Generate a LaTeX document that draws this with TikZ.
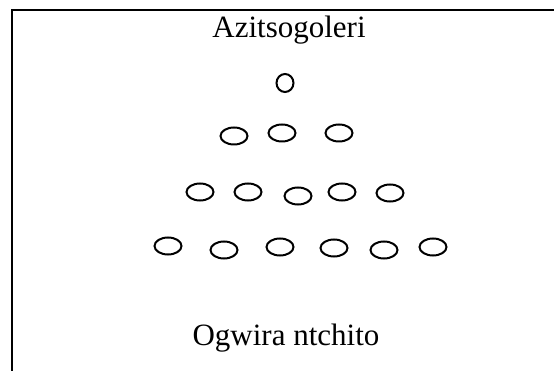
\documentclass[tikz,border=0pt]{standalone}
\usepackage{fontspec}
\setmainfont{Liberation Serif}
\usepackage{tikz}
\usetikzlibrary{shapes.geometric, positioning}
\tikzset{
	ring/.style={
		draw,
		ellipse,
		line width=2pt,
		inner sep=0pt,
		minimum width=27pt,
		minimum height=17pt
	},
	frame/.style={
		line width=2pt
	},
	caption/.style={
		anchor=base,
		inner sep=0pt,
		font=\fontsize{31}{36}\selectfont
	}
}

\begin{document}
\begin{tikzpicture}[x=1pt, y=-1pt]
		\useasboundingbox (0,0) rectangle (554,371);
% ---
% frame
% ---
\coordinate (corner) at (12,10);
\coordinate (top-end) at (554,10);
\coordinate (left-end) at (12,371);
\draw[frame] (top-end) -- (corner) -- (left-end);

% ---
% labels
% ---
\node[caption] at (289,38) (head) {Azitsogoleri};
\node[caption] at (286,345) (foot) {Ogwira ntchito};

% ---
% pyramid
% ---
\node[ring, minimum width=17pt, minimum height=18pt] at (285,83) (r1-1) {};

\node[ring] at (234,136) (r2-1) {};
\node[ring] at (282,133) (r2-2) {};
\node[ring] at (339,133) (r2-3) {};

\node[ring] at (200,192) (r3-1) {};
\node[ring] at (248,192) (r3-2) {};
\node[ring] at (298,196) (r3-3) {};
\node[ring] at (342,192) (r3-4) {};
\node[ring] at (390,193) (r3-5) {};

\node[ring] at (168,246) (r4-1) {};
\node[ring] at (224,250) (r4-2) {};
\node[ring] at (280,247) (r4-3) {};
\node[ring] at (334,248) (r4-4) {};
\node[ring] at (384,250) (r4-5) {};
\node[ring] at (433,247) (r4-6) {};
	\end{tikzpicture}
\end{document}
